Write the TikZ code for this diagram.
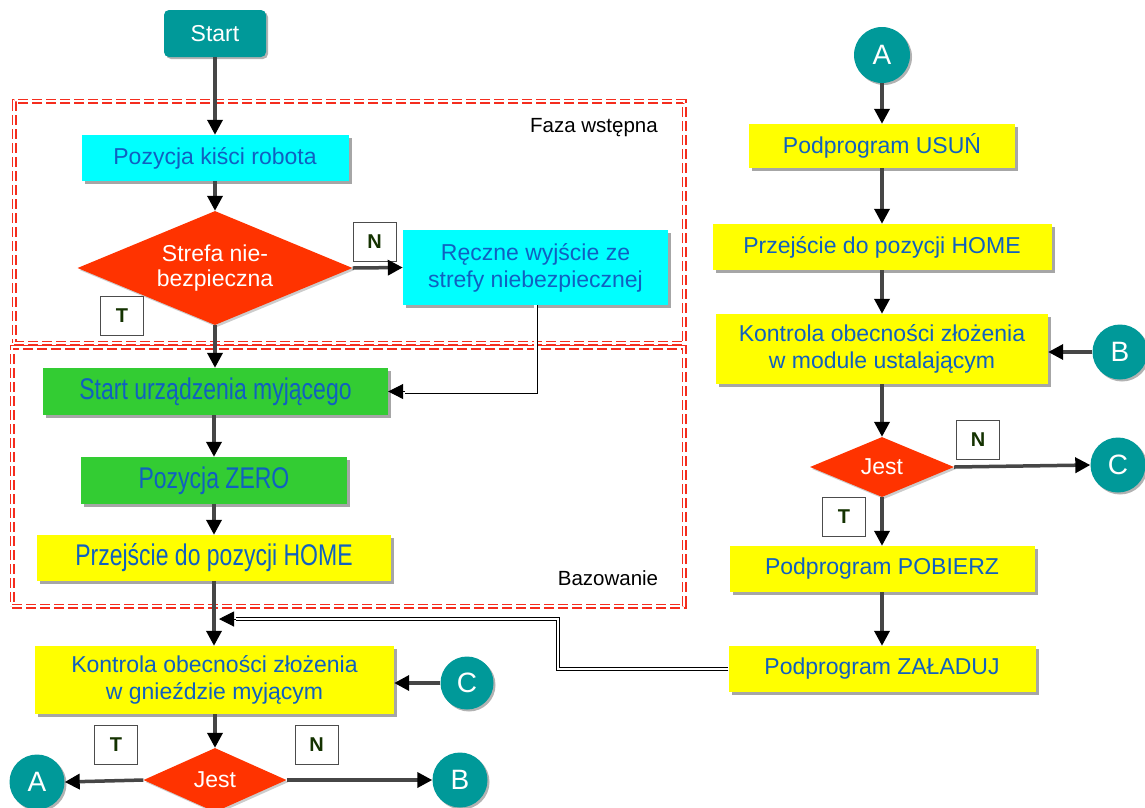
\documentclass[tikz,border=0pt]{standalone}
\usepackage{fontspec}
\setmainfont{Liberation Sans}
\usetikzlibrary{shapes.geometric,arrows.meta,shadows,calc}
\definecolor{tealc}{RGB}{0,153,153}
\definecolor{cyanbox}{RGB}{0,255,255}
\definecolor{greenbox}{RGB}{51,204,51}
\definecolor{yellowbox}{RGB}{255,255,0}
\definecolor{txtblue}{RGB}{16,96,192}
\definecolor{redor}{RGB}{255,51,0}
\definecolor{framered}{RGB}{245,45,30}
\definecolor{linegray}{RGB}{70,70,70}
\definecolor{tndark}{RGB}{20,50,0}
\tikzset{
  proc/.style={rectangle, inner sep=0pt, font=\fontsize{23}{27}\selectfont,
    text=txtblue, align=center,
    drop shadow={shadow xshift=3pt, shadow yshift=-3pt, fill=black, opacity=0.35}},
  cyanproc/.style={proc, fill=cyanbox},
  greenproc/.style={proc, fill=greenbox},
  yellowproc/.style={proc, fill=yellowbox},
  decision/.style={diamond, inner sep=0pt, fill=redor, text=white, align=center,
    font=\fontsize{23}{25}\selectfont,
    drop shadow={shadow xshift=2pt, shadow yshift=-2pt, fill=black, opacity=0.2}},
  connector/.style={circle, inner sep=0pt, minimum size=55pt, fill=tealc, text=white,
    font=\fontsize{28}{30}\selectfont,
    drop shadow={shadow xshift=2pt, shadow yshift=-2pt, fill=black, opacity=0.3}},
  startbox/.style={rectangle, rounded corners=5pt, inner sep=0pt, fill=tealc, text=white,
    font=\fontsize{23}{27}\selectfont,
    drop shadow={shadow xshift=2pt, shadow yshift=-2pt, fill=black, opacity=0.3}},
  tnbox/.style={rectangle, draw=black!70, line width=0.8pt, fill=white, inner sep=0pt,
    minimum width=43pt, minimum height=39pt, text=tndark,
    font=\fontsize{20}{22}\selectfont\bfseries},
  groupframe/.style={rectangle, draw=framered, line width=1.5pt, double=white,
    double distance=2pt, dash pattern=on 10pt off 4pt, inner sep=0pt},
  grouplabel/.style={font=\fontsize{20.5}{23}\selectfont, text=black, inner sep=0pt},
  flow/.style={draw=linegray, line width=3.5pt,
    -{Triangle[length=15pt, width=15pt, color=black, fill=black]}},
  dblline/.style={draw=black, line width=0.9pt, double=white, double distance=2.2pt},
  tiponly/.style={draw=black, line width=1pt,
    -{Triangle[length=15pt, width=15pt, color=black, fill=black]}},
}
\begin{document}
\begin{tikzpicture}[x=1pt, y=-1pt]
\useasboundingbox (0,0) rectangle (1145,807);
\fill[white] (0,0) rectangle (1145,807);

% group frames
\node[groupframe, minimum width=670pt, minimum height=242pt] (faza) at (349,222) {};
\node[groupframe, minimum width=672pt, minimum height=259pt] (baz) at (348,476.5) {};
\node[grouplabel] (fazalbl) at (594,128) {Faza wstępna};
\node[grouplabel] (bazlbl) at (608,578) {Bazowanie};

% left column
\node[startbox, minimum width=102pt, minimum height=47pt] (start) at (215,33.5) {Start};
\node[cyanproc, minimum width=267pt, minimum height=46pt] (poz) at (215,158) {Pozycja kiści robota};
\node[decision, aspect=2.4, minimum width=275pt, minimum height=114pt] (strefa) at (215,268) {Strefa nie-\\bezpieczna};
\node[cyanproc, minimum width=265pt, minimum height=75pt] (reczne) at (535.5,267.5) {Ręczne wyjście ze\\strefy niebezpiecznej};
\node[greenproc, minimum width=345pt, minimum height=47pt] (starturz) at (215.5,391.5) {\scalebox{1}[1.3]{Start urządzenia myjącego}};
\node[greenproc, minimum width=266pt, minimum height=47pt] (zero) at (214,480.5) {\scalebox{1}[1.3]{Pozycja ZERO}};
\node[yellowproc, minimum width=354pt, minimum height=46pt] (homeL) at (214,558) {\scalebox{1}[1.3]{Przejście do pozycji HOME}};
\node[yellowproc, minimum width=359pt, minimum height=68pt] (kontrL) at (214.5,680) {Kontrola obecności złożenia\\w gnieździe myjącym};
\node[connector, minimum size=53pt] (cL) at (467,683) {C};
\node[decision, aspect=2.23, minimum width=143pt, minimum height=64pt] (jestL) at (215,780) {Jest};
\node[connector] (aL) at (37,782) {A};
\node[connector] (bL) at (460,780) {B};

\node[tnbox] (nStrefa) at (374.5,241.5) {N};
\node[tnbox] (tStrefa) at (122,315.5) {T};
\node[tnbox] (tJestL) at (116,745) {T};
\node[tnbox] (nJestL) at (316.5,745) {N};

% right column
\node[connector, minimum size=56pt] (aR) at (882,55) {A};
\node[yellowproc, minimum width=266pt, minimum height=44pt] (usun) at (882,146) {Podprogram USUŃ};
\node[yellowproc, minimum width=339pt, minimum height=46pt] (homeR) at (882,247) {Przejście do pozycji HOME};
\node[yellowproc, minimum width=332pt, minimum height=70pt] (kontrR) at (882,349) {Kontrola obecności złożenia\\w module ustalającym};
\node[connector] (bR) at (1120,352) {B};
\node[decision, aspect=2.4, minimum width=144pt, minimum height=60pt] (jestR) at (882,467) {Jest};
\node[connector] (cR) at (1118,465) {C};
\node[yellowproc, minimum width=305pt, minimum height=46pt] (pobierz) at (882,569) {Podprogram POBIERZ};
\node[yellowproc, minimum width=307pt, minimum height=46pt] (zaladuj) at (882,669) {Podprogram ZAŁADUJ};
\node[tnbox] (nJestR) at (978,439.5) {N};
\node[tnbox] (tJestR) at (844,517) {T};

\coordinate (join) at (219,619);
\coordinate (joinbase) at (236,619);
\coordinate (urzbase) at ($(starturz.east)+(17,0)$);

% connectors left
\draw[flow] (start.south) -- (poz.north);
\draw[flow] (poz.south) -- (strefa.north);
\draw[flow] (strefa.east) -- (reczne.west);
\draw[flow] (strefa.south) -- (starturz.north -| strefa.south);
\draw[dblline] (reczne.south) |- (urzbase);
\draw[tiponly] (urzbase) -- (starturz.east);
\draw[flow] (starturz.south -| zero.north) -- (zero.north);
\draw[flow] (zero.south) -- (homeL.north);
\draw[flow] (homeL.south) -- (kontrL.north -| homeL.south);
\draw[flow] (cL.west) -- (kontrL.east |- cL.west);
\draw[flow] (kontrL.south -| jestL.north) -- (jestL.north);
\draw[flow] (jestL.west) -- (aL.east);
\draw[flow] (jestL.east) -- (bL.west);

% connectors right
\draw[flow] (aR.south) -- (usun.north);
\draw[flow] (usun.south) -- (homeR.north);
\draw[flow] (homeR.south) -- (kontrR.north);
\draw[flow] (bR.west) -- (kontrR.east |- bR.west);
\draw[flow] (kontrR.south) -- (jestR.north);
\draw[flow] (jestR.east) -- (cR.west);
\draw[flow] (jestR.south) -- (pobierz.north);
\draw[flow] (pobierz.south) -- (zaladuj.north);
\draw[dblline] (zaladuj.west) -- ++(-170,0) |- (joinbase);
\draw[tiponly] (joinbase) -- (join);
\end{tikzpicture}
\end{document}
